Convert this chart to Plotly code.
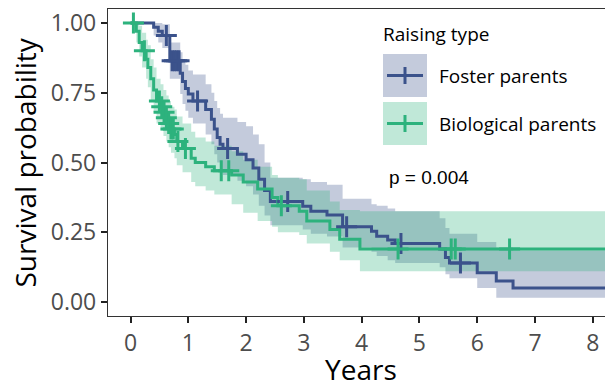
import numpy as np
import plotly.graph_objects as go

# ---------------- data ----------------
END_TIME = 8.6  # end of follow-up (beyond visible range)

foster_time = [0, 0.40, 0.48, 0.55, 0.68, 0.86, 0.90, 0.95, 1.00, 1.08, 1.30, 1.40, 1.45, 1.50,
               1.55, 1.60, 1.85, 2.00, 2.12, 2.22, 2.32, 2.42, 2.98, 3.12, 3.40, 3.67, 4.17,
               4.26, 4.45, 4.58, 5.35, 5.45, 5.52, 6.00, 6.33, 6.62]
foster_surv = [1.0, 0.985, 0.97, 0.955, 0.865, 0.82, 0.79, 0.765, 0.745, 0.72, 0.69, 0.655, 0.62,
               0.59, 0.565, 0.55, 0.53, 0.51, 0.48, 0.44, 0.40, 0.36, 0.343, 0.325, 0.312, 0.27,
               0.254, 0.236, 0.222, 0.21, 0.19, 0.16, 0.14, 0.105, 0.075, 0.05]
foster_upper = [1.0, 1.0, 1.0, 0.995, 0.93, 0.895, 0.87, 0.85, 0.83, 0.815, 0.78, 0.75, 0.72,
                0.695, 0.675, 0.66, 0.645, 0.63, 0.60, 0.565, 0.50, 0.445, 0.44, 0.43, 0.42,
                0.37, 0.35, 0.345, 0.335, 0.325, 0.30, 0.265, 0.245, 0.215, 0.195, 0.185]
foster_lower = [1.0, 0.955, 0.93, 0.91, 0.80, 0.745, 0.71, 0.685, 0.66, 0.64, 0.60, 0.565, 0.53,
                0.50, 0.47, 0.455, 0.435, 0.415, 0.385, 0.345, 0.31, 0.275, 0.26, 0.245, 0.235,
                0.195, 0.18, 0.165, 0.15, 0.14, 0.125, 0.10, 0.085, 0.05, 0.015, 0.015]
foster_censor = [0.62, 0.72, 0.76, 0.80, 0.84, 1.16, 1.68, 2.72, 3.74, 4.68, 5.71]

bio_time = [0, 0.10, 0.15, 0.20, 0.27, 0.30, 0.35, 0.40, 0.45, 0.52, 0.57, 0.62, 0.66, 0.70,
            0.76, 0.80, 0.90, 1.05, 1.12, 1.30, 1.45, 1.75, 1.95, 2.20, 2.45, 2.55, 2.92, 3.05,
            3.45, 3.62, 3.97]
bio_surv = [1.0, 0.97, 0.93, 0.90, 0.87, 0.84, 0.80, 0.76, 0.72, 0.70, 0.68, 0.66, 0.64, 0.62,
            0.60, 0.575, 0.55, 0.515, 0.50, 0.485, 0.47, 0.455, 0.43, 0.405, 0.375, 0.345, 0.325,
            0.29, 0.26, 0.225, 0.19]
bio_upper = [1.0, 1.0, 0.99, 0.965, 0.94, 0.92, 0.87, 0.84, 0.80, 0.78, 0.76, 0.74, 0.72, 0.70,
             0.69, 0.665, 0.64, 0.61, 0.59, 0.575, 0.56, 0.54, 0.51, 0.485, 0.455, 0.445, 0.44,
             0.40, 0.36, 0.33, 0.325]
bio_lower = [1.0, 0.93, 0.88, 0.84, 0.80, 0.77, 0.72, 0.68, 0.64, 0.615, 0.595, 0.575, 0.555,
             0.535, 0.515, 0.49, 0.465, 0.43, 0.415, 0.40, 0.385, 0.35, 0.32, 0.29, 0.27, 0.25,
             0.24, 0.21, 0.18, 0.15, 0.11]
bio_censor = [0.05, 0.24, 0.50, 0.54, 0.58, 0.62, 0.66, 0.70, 0.74, 0.82, 0.95, 1.57, 1.70,
              2.61, 4.63, 5.55, 5.62, 6.56]

group_names = ["Foster parents", "Biological parents"]
legend_title = "Raising type"
p_value_text = "p = 0.004"
x_title = "Years"
y_title = "Survival probability"
x_ticks = [0, 1, 2, 3, 4, 5, 6, 7, 8]
y_ticks = [0, 0.25, 0.5, 0.75, 1.0]
y_ticktext = ["0.00", "0.25", "0.50", "0.75", "1.00"]

# ---------------- styling ----------------
BLUE = "#3B528B"
GREEN = "#2DB27D"
BLUE_FILL = "rgba(59,82,139,0.3)"
GREEN_FILL = "rgba(45,178,125,0.3)"
FONT = "Open Sans"

OFF = 8  # page body margin in the browser
W, H = 613 - OFF, 386 - OFF
ML, MR, MT, MB = 108 - OFF, 0, 9 - OFF, 70
PW, PH = W - ML - MR, H - MT - MB


def px_x(px):  # page pixel -> paper x
    return (px - OFF - ML) / PW


def px_y(py):  # page pixel -> paper y
    return (H - MB - (py - OFF)) / PH


def step_value(times, vals, t):
    idx = np.searchsorted(np.asarray(times), np.asarray(t), side="right") - 1
    return np.asarray(vals)[idx]


groups = [
    (group_names[0], foster_time, foster_surv, foster_lower, foster_upper, foster_censor, BLUE, BLUE_FILL),
    (group_names[1], bio_time, bio_surv, bio_lower, bio_upper, bio_censor, GREEN, GREEN_FILL),
]

fig = go.Figure()

# confidence bands
for name, t, s, lo, hi, cens, col, fill in groups:
    tx = list(t) + [END_TIME]
    fig.add_trace(go.Scatter(x=tx, y=list(lo) + [lo[-1]], mode="lines",
                             line=dict(width=0, shape="hv", color=col),
                             showlegend=False, hoverinfo="skip"))
    fig.add_trace(go.Scatter(x=tx, y=list(hi) + [hi[-1]], mode="lines",
                             line=dict(width=0, shape="hv", color=col),
                             fill="tonexty", fillcolor=fill,
                             showlegend=False, hoverinfo="skip"))

# survival curves
for name, t, s, lo, hi, cens, col, fill in groups:
    tx = list(t) + [END_TIME]
    fig.add_trace(go.Scatter(x=tx, y=list(s) + [s[-1]], mode="lines", name=name,
                             line=dict(width=3, shape="hv", color=col), showlegend=False))

# censor marks
for name, t, s, lo, hi, cens, col, fill in groups:
    fig.add_trace(go.Scatter(x=cens, y=step_value(t, s, cens), mode="markers",
                             marker=dict(symbol="cross-thin", size=15,
                                         line=dict(width=3, color=col)),
                             showlegend=False, hoverinfo="skip"))

# manual legend (ggplot style)
shapes = []
annotations = []
annotations.append(dict(xref="paper", yref="paper", x=px_x(381), y=px_y(34), text=legend_title,
                        showarrow=False, xanchor="left", yanchor="middle",
                        font=dict(family=FONT, size=19, color="#000000")))
key_tops = [54, 102]
for (name, t, s, lo, hi, cens, col, fill), top in zip(groups, key_tops):
    bot = top + 43
    mid = (top + bot) / 2
    shapes.append(dict(type="rect", xref="paper", yref="paper",
                       x0=px_x(383), x1=px_x(427), y0=px_y(bot), y1=px_y(top),
                       fillcolor=fill, line=dict(width=0), layer="above"))
    shapes.append(dict(type="line", xref="paper", yref="paper",
                       x0=px_x(387), x1=px_x(423), y0=px_y(mid), y1=px_y(mid),
                       line=dict(color=col, width=3), layer="above"))
    shapes.append(dict(type="line", xref="paper", yref="paper",
                       x0=px_x(405), x1=px_x(405), y0=px_y(mid - 8.5), y1=px_y(mid + 8.5),
                       line=dict(color=col, width=3), layer="above"))
    annotations.append(dict(xref="paper", yref="paper", x=px_x(437), y=px_y(mid), text=name,
                            showarrow=False, xanchor="left", yanchor="middle",
                            font=dict(family=FONT, size=19, color="#000000")))

# p-value
annotations.append(dict(xref="x", yref="y", x=5.16, y=0.447, text=p_value_text, showarrow=False,
                        xanchor="center", yanchor="middle",
                        font=dict(family="Liberation Sans, Arial", size=19, color="#000000")))

# axis titles
annotations.append(dict(xref="paper", yref="paper", x=0.5, y=px_y(369), text=x_title,
                        showarrow=False, xanchor="center", yanchor="middle",
                        font=dict(family=FONT, size=28, color="#000000")))
annotations.append(dict(xref="paper", yref="paper", x=px_x(24), y=0.5, text=y_title,
                        showarrow=False, xanchor="center", yanchor="middle", textangle=-90,
                        font=dict(family=FONT, size=28, color="#000000")))

fig.update_layout(
    width=W, height=H,
    margin=dict(l=ML, r=MR, t=MT, b=MB, pad=0, autoexpand=False),
    paper_bgcolor="white", plot_bgcolor="white",
    showlegend=False,
    shapes=shapes, annotations=annotations,
    font=dict(family=FONT),
)
fig.update_xaxes(range=[-0.39, 8.35], tickvals=x_ticks, ticks="outside", ticklen=6,
                 tickwidth=2, tickcolor="#222222", showline=True, linecolor="#333333",
                 linewidth=1.3, mirror=True, showgrid=False, zeroline=False, automargin=False,
                 ticklabeloverflow="allow",
                 tickfont=dict(family=FONT, size=23, color="#4D4D4D"))
fig.update_yaxes(range=[-0.05, 1.05], tickvals=y_ticks, ticktext=y_ticktext, ticks="outside",
                 ticklen=6, tickwidth=2, tickcolor="#222222", showline=True,
                 linecolor="#333333", linewidth=1.3, mirror=False, showgrid=False,
                 zeroline=False, automargin=False, ticklabeloverflow="allow",
                 tickfont=dict(family=FONT, size=23, color="#4D4D4D"))

fig.write_html("out.html")
